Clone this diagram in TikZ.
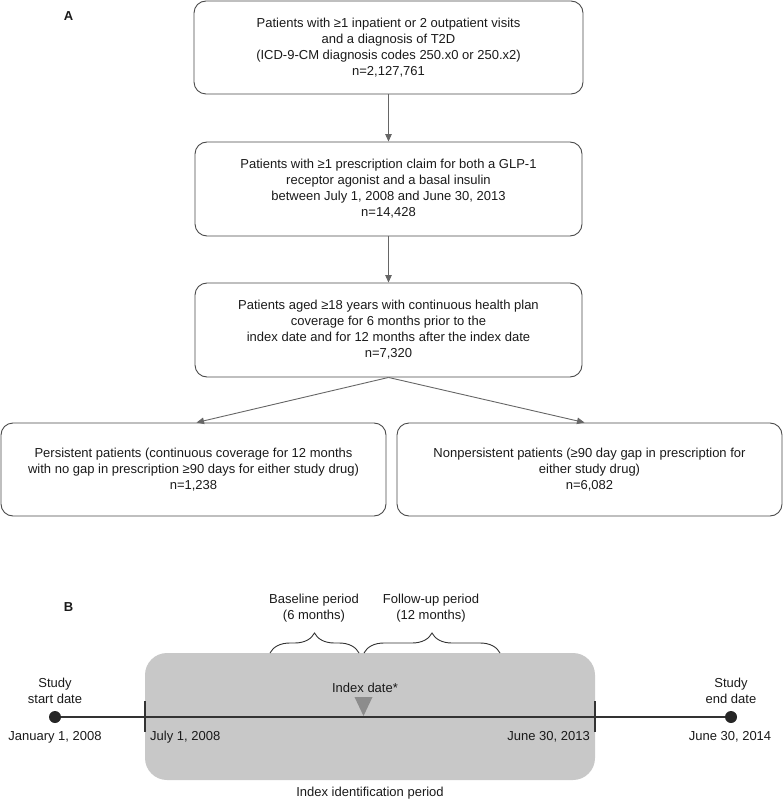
\documentclass[tikz,border=0pt]{standalone}
\usepackage{fontspec}
\setmainfont{Liberation Sans}
\usetikzlibrary{arrows.meta,decorations.pathreplacing}
\definecolor{txt}{HTML}{1A1A1A}
\definecolor{bord}{HTML}{4A4A4A}
\definecolor{arrc}{HTML}{666666}
\definecolor{boxgray}{HTML}{C8C8C8}
\definecolor{trigray}{HTML}{8C8C8C}
\definecolor{dotc}{HTML}{262626}
\definecolor{linec}{HTML}{333333}
\tikzset{
  flowbox/.style={draw=bord, line width=0.9pt, rounded corners=12pt, align=center,
    inner sep=0pt, text=txt, font=\fontsize{13}{16}\selectfont},
  arr/.style={draw=arrc, line width=0.9pt, -{Triangle[length=7.5pt,width=6.5pt]}},
  lbl/.style={text=txt, font=\fontsize{13}{16}\selectfont, inner sep=0pt, align=center},
  panel/.style={text=txt, font=\fontsize{13}{16}\selectfont\bfseries, inner sep=0pt},
  dotnode/.style={circle, fill=dotc, minimum size=12pt, inner sep=0pt},
  bracestyle/.style={draw=linec, line width=0.9pt, decorate, decoration={brace, amplitude=20pt}},
}
\begin{document}
\begin{tikzpicture}[x=1pt,y=-1pt]
\useasboundingbox (0,0) rectangle (783,802);
% Panel A
\node[panel] (pa) at (68.5,16) {A};
\node[flowbox, minimum width=389pt, minimum height=93pt] (b1) at (388.5,47.5)
  {Patients with ≥1 inpatient or 2 outpatient visits\\and a diagnosis of T2D\\(ICD-9-CM diagnosis codes 250.x0 or 250.x2)\\n=2,127,761};
\node[flowbox, minimum width=387pt, minimum height=94pt] (b2) at (388.5,189)
  {Patients with ≥1 prescription claim for both a GLP-1\\receptor agonist and a basal insulin\\between July 1, 2008 and June 30, 2013\\n=14,428};
\node[flowbox, minimum width=387pt, minimum height=94pt] (b3) at (388.5,330)
  {Patients aged ≥18 years with continuous health plan\\coverage for 6 months prior to the\\index date and for 12 months after the index date\\n=7,320};
\node[flowbox, minimum width=385pt, minimum height=93pt] (b4) at (193.5,469.5)
  {Persistent patients (continuous coverage for 12 months\\with no gap in prescription ≥90 days for either study drug)\\n=1,238};
\node[flowbox, minimum width=385pt, minimum height=93pt] (b5) at (589.5,469.5)
  {Nonpersistent patients (≥90 day gap in prescription for\\either study drug)\\n=6,082};
\draw[arr] (b1) -- (b2);
\draw[arr] (b2) -- (b3);
\draw[arr] (b3.south) -- ([xshift=3pt]b4.north);
\draw[arr] (b3.south) -- ([xshift=-5pt]b5.north);
% Panel B
\node[panel] (pb) at (68.5,607) {B};
\fill[boxgray, rounded corners=22pt] (145,653) rectangle (595,780);
\node[dotnode] (sd) at (55,717) {};
\node[dotnode] (ed) at (731,717) {};
\draw[linec, line width=1.2pt] (sd) -- (ed);
\draw[linec, line width=1.2pt] (145,701) -- (145,732);
\draw[linec, line width=1.2pt] (595,701) -- (595,732);
\fill[trigray] (354.5,697) -- (372.5,697) -- (363.5,716) -- cycle;
\draw[bracestyle] (270,653) -- (359,653);
\draw[bracestyle] (364,653) -- (500,653);
\node[lbl] (bl) at (314,608) {Baseline period\\(6 months)};
\node[lbl] (fu) at (431,608) {Follow-up period\\(12 months)};
\node[lbl] (idx) at (365,688) {Index date*};
\node[lbl] (ss) at (55,691) {Study\\start date};
\node[lbl] (es) at (731,691) {Study\\end date};
\node[lbl] (jan) at (55,737) {January 1, 2008};
\node[lbl] (jun14) at (730,737) {June 30, 2014};
\node[lbl, anchor=west] (jul) at (150,737) {July 1, 2008};
\node[lbl, anchor=east] (jun13) at (590,737) {June 30, 2013};
\node[lbl] (iip) at (370,793) {Index identification period};
\end{tikzpicture}
\end{document}
